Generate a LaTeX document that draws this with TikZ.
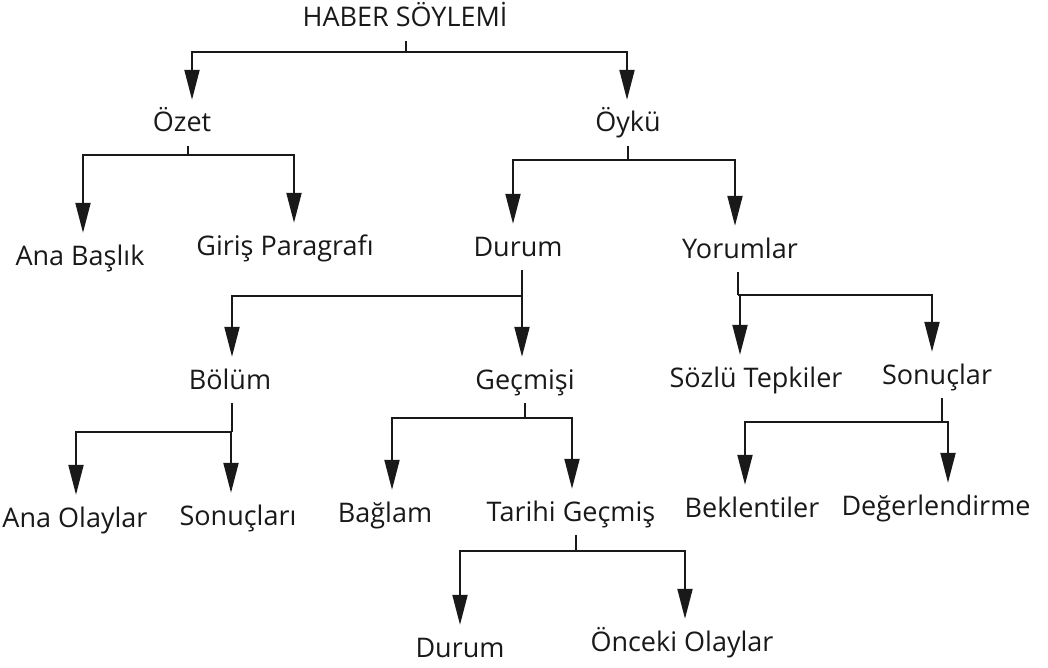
\documentclass[tikz,border=0pt]{standalone}
\usepackage{fontspec}
\setmainfont{Open Sans}
\usetikzlibrary{arrows.meta}
\begin{document}
\begin{tikzpicture}[x=1pt,y=-1pt,
  lbl/.style={font=\fontsize{27}{32}\selectfont, text=black!90, text height=20pt, text depth=6pt, inner xsep=2pt, inner ysep=8pt},
  ln/.style={line width=2pt, draw=black!90},
  ar/.style={ln, -{Triangle[length=30pt,width=15pt]}, shorten >=4pt}]
\useasboundingbox (0,0) rectangle (1048,668);
\fill[white] (0,0) rectangle (1048,668);
% nodes
\node[lbl] (hab) at (405,20) {HABER SÖYLEMİ};
\node[lbl] (ozet) at (182,125) {Özet};
\node[lbl] (oyku) at (628,125) {Öykü};
\node[lbl] (anab) at (80,258) {Ana Başlık};
\node[lbl] (giris) at (285,248) {Giriş Paragrafı};
\node[lbl] (durum) at (518,249) {Durum};
\node[lbl] (yorum) at (740,251) {Yorumlar};
\node[lbl] (bolum) at (230,382) {Bölüm};
\node[lbl] (gecm) at (525,382) {Geçmişi};
\node[lbl] (sozlu) at (756,380) {Sözlü Tepkiler};
\node[lbl] (sonuc) at (937,377) {Sonuçlar};
\node[lbl] (anaol) at (75,520) {Ana Olaylar};
\node[lbl] (sonri) at (238,518) {Sonuçları};
\node[lbl] (bagl) at (385,515) {Bağlam};
\node[lbl] (tarih) at (571,514) {Tarihi Geçmiş};
\node[lbl] (bekl) at (752,510) {Beklentiler};
\node[lbl] (deger) at (936,508) {Değerlendirme};
\node[lbl] (durum2) at (460,650) {Durum};
\node[lbl] (once) at (682,644) {Önceki Olaylar};
% junctions
\coordinate (jHab) at (406,52);
\coordinate (jOzet) at (188,155);
\coordinate (jOyku) at (628,160);
\coordinate (jDurum) at (522,296);
\coordinate (jYorum) at (738,295);
\coordinate (jBolum) at (232,432);
\coordinate (jGecm) at (525,418);
\coordinate (jSonuc) at (942,422);
\coordinate (jTarih) at (576,551);
% connectors
\draw[ln] (hab.south -| jHab) -- (jHab);
\draw[ar] (jHab) -| ([xshift=10pt]ozet.north);
\draw[ar] (jHab) -| ([xshift=-1pt]oyku.north);
\draw[ln] (ozet.south -| jOzet) -- (jOzet);
\draw[ar] (jOzet) -| ([xshift=3pt]anab.north);
\draw[ar] (jOzet) -| ([xshift=9pt]giris.north);
\draw[ln] (oyku.south -| jOyku) -- (jOyku);
\draw[ar] (jOyku) -| ([xshift=-5pt]durum.north);
\draw[ar] (jOyku) -| ([xshift=-5pt]yorum.north);
\draw[ln] (durum.south -| jDurum) -- (jDurum);
\draw[ar] (jDurum) -| ([xshift=2pt]bolum.north);
\draw[ar] (jDurum) -| ([xshift=-3pt]gecm.north);
\draw[ln] (yorum.south -| jYorum) -- (jYorum);
\draw[ar] (jYorum) -| ([xshift=-16pt]sozlu.north);
\draw[ar] (jYorum) -| ([xshift=-5pt]sonuc.north);
\draw[ln] (bolum.south -| jBolum) -- (jBolum);
\draw[ar] (jBolum) -| ([xshift=1pt]anaol.north);
\draw[ar] (jBolum) -| ([xshift=-7pt]sonri.north);
\draw[ln] (gecm.south -| jGecm) -- (jGecm);
\draw[ar] (jGecm) -| ([xshift=7pt]bagl.north);
\draw[ar] (jGecm) -| ([xshift=1pt]tarih.north);
\draw[ln] (sonuc.south -| jSonuc) -- (jSonuc);
\draw[ar] (jSonuc) -| ([xshift=-7pt]bekl.north);
\draw[ar] (jSonuc) -| ([xshift=12pt]deger.north);
\draw[ln] (tarih.south -| jTarih) -- (jTarih);
\draw[ar] (jTarih) -| (durum2.north);
\draw[ar] (jTarih) -| ([xshift=3pt]once.north);
\end{tikzpicture}
\end{document}
